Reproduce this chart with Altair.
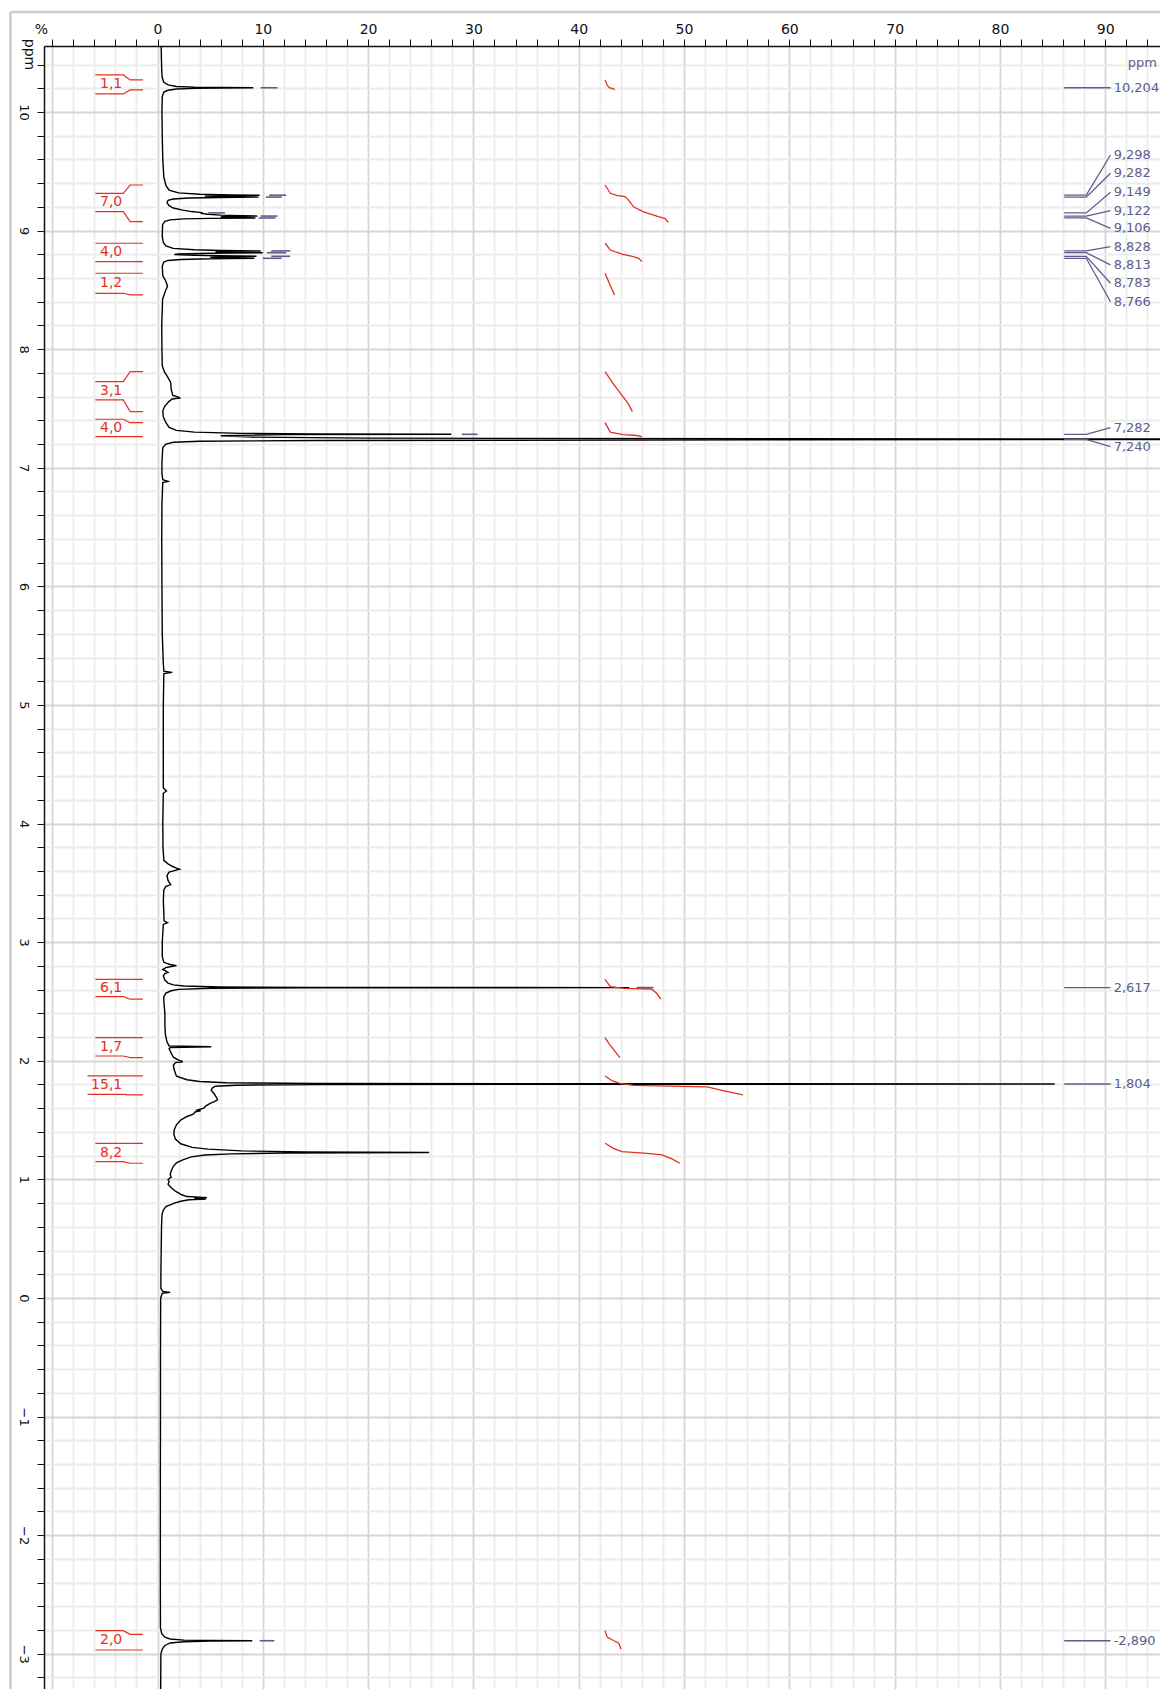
import altair as alt
import pandas as pd

# ---------------- spectrum (ppm, intensity in %) ----------------
spec_ppm = [10.556, 10.45, 10.35, 10.29, 10.25, 10.228, 10.215, 10.209, 10.206, 10.204, 10.202, 10.199,
            10.193, 10.183, 10.168, 10.13, 10.00, 9.80, 9.60, 9.45, 9.38, 9.34, 9.318, 9.306, 9.300,
            9.298, 9.294, 9.290, 9.286, 9.282, 9.279, 9.274, 9.266, 9.255, 9.235, 9.210, 9.190, 9.172,
            9.160, 9.153, 9.149, 9.145, 9.138, 9.130, 9.125, 9.122, 9.118, 9.114, 9.110, 9.106, 9.103,
            9.098, 9.090, 9.078, 9.05, 8.95, 8.90, 8.87, 8.850, 8.838, 8.832, 8.828, 8.824, 8.820,
            8.816, 8.813, 8.809, 8.803, 8.798, 8.792, 8.787, 8.783, 8.779, 8.774, 8.770, 8.766, 8.762,
            8.756, 8.748, 8.735, 8.70, 8.62, 8.57, 8.53, 8.49, 8.42, 8.20, 8.00, 7.86, 7.81, 7.76,
            7.72, 7.66, 7.61, 7.595, 7.588, 7.580, 7.56, 7.52, 7.48, 7.43, 7.38, 7.34, 7.315, 7.300,
            7.290, 7.285, 7.282, 7.279, 7.270, 7.258, 7.250, 7.244, 7.240, 7.236, 7.230, 7.224, 7.215,
            7.200, 7.17, 7.05, 6.95, 6.90, 6.885, 6.875, 6.70, 6.40, 6.00, 5.60, 5.35, 5.285, 5.275,
            5.265, 5.00, 4.60, 4.30, 4.275, 4.255, 4.00, 3.80, 3.69, 3.66, 3.64, 3.625, 3.615, 3.605,
            3.59, 3.56, 3.52, 3.485, 3.47, 3.44, 3.35, 3.25, 3.18, 3.165, 3.15, 3.00, 2.88, 2.83,
            2.812, 2.802, 2.795, 2.785, 2.770, 2.755, 2.745, 2.735, 2.715, 2.68, 2.655, 2.640, 2.630,
            2.622, 2.619, 2.617, 2.615, 2.611, 2.602, 2.590, 2.570, 2.540, 2.50, 2.40, 2.30, 2.22,
            2.16, 2.125, 2.118, 2.112, 2.10, 2.03, 2.005, 1.992, 1.985, 1.96, 1.92, 1.87, 1.84, 1.825,
            1.815, 1.808, 1.804, 1.800, 1.794, 1.785, 1.77, 1.75, 1.72, 1.69, 1.67, 1.655, 1.64, 1.62,
            1.60, 1.585, 1.578, 1.57, 1.55, 1.53, 1.50, 1.46, 1.42, 1.38, 1.34, 1.30, 1.27, 1.255,
            1.24, 1.232, 1.227, 1.222, 1.215, 1.205, 1.19, 1.165, 1.14, 1.11, 1.07, 1.04, 1.02, 1.00,
            0.98, 0.96, 0.93, 0.90, 0.87, 0.855, 0.846, 0.840, 0.835, 0.828, 0.815, 0.80, 0.785, 0.77,
            0.74, 0.70, 0.60, 0.40, 0.20, 0.08, 0.055, 0.047, 0.040, 0.00, -0.50, -1.00, -1.50, -2.00,
            -2.50, -2.78, -2.83, -2.86, -2.875, -2.885, -2.888, -2.890, -2.893, -2.899, -2.909, -2.93,
            -2.96, -3.00, -3.297]
spec_int = [0.35, 0.37, 0.40, 0.44, 0.60, 1.00, 1.8, 3.5, 6.0, 9.1, 6.0, 3.5,
            1.8, 1.0, 0.6, 0.45, 0.42, 0.45, 0.50, 0.60, 0.80, 1.1, 2.0, 4.0, 7.0,
            9.7, 6.0, 4.5, 6.0, 9.6, 6.0, 3.0, 1.5, 1.0, 0.9, 1.1, 1.5, 2.4,
            3.2, 4.0, 4.3, 4.1, 4.8, 6.0, 8.0, 9.5, 6.5, 6.0, 7.5, 9.3, 5.0,
            2.5, 1.2, 0.7, 0.48, 0.45, 0.55, 0.8, 1.5, 3.5, 6.0, 9.8, 6.5, 5.5,
            7.5, 10.0, 5.0, 2.0, 1.6, 3.5, 6.0, 9.4, 6.0, 5.0, 6.5, 9.2, 5.0,
            2.2, 1.0, 0.6, 0.45, 0.50, 0.80, 0.95, 0.75, 0.48, 0.40, 0.42, 0.45, 0.65, 1.0,
            1.25, 1.3, 1.45, 2.0, 2.1, 1.4, 1.1, 0.7, 0.5, 0.55, 0.8, 1.1, 1.8, 3.5,
            8.0, 15.0, 27.9, 12.0, 6.0, 9.0, 20.0, 60.0, 150.0, 60.0, 15.0, 4.0, 1.5,
            0.8, 0.5, 0.42, 0.42, 0.5, 1.0, 0.5, 0.42, 0.40, 0.42, 0.45, 0.55, 0.6, 1.4,
            0.6, 0.55, 0.55, 0.55, 0.85, 0.55, 0.50, 0.52, 0.6, 1.0, 1.4, 1.8, 2.1, 1.7,
            1.1, 0.9, 1.0, 1.25, 0.8, 0.6, 0.55, 0.6, 0.62, 0.95, 0.55, 0.45, 0.45, 0.6,
            1.2, 1.8, 1.3, 0.8, 0.5, 0.8, 1.0, 0.7, 0.55, 0.7, 1.0, 1.5, 2.5,
            6.0, 15.0, 44.8, 15.0, 5.0, 2.0, 1.3, 0.8, 0.6, 0.6, 0.7, 0.7, 0.75,
            0.9, 1.1, 5.1, 1.2, 1.1, 1.5, 2.0, 2.4, 1.7, 1.5, 1.6, 1.8, 2.8, 4.0,
            6.5, 15.0, 85.2, 15.0, 7.5, 5.5, 5.2, 5.1, 5.4, 5.6, 5.7, 5.4, 5.0, 4.6,
            4.4, 3.8, 4.1, 3.6, 3.4, 2.8, 2.2, 1.8, 1.6, 1.55, 1.7, 2.2, 3.3, 4.8,
            8.0, 14.0, 25.8, 12.0, 7.0, 4.5, 3.2, 2.4, 1.8, 1.5, 1.3, 1.2, 1.3, 1.0,
            1.1, 1.0, 1.3, 1.7, 2.3, 2.8, 4.7, 3.5, 4.6, 3.0, 2.2, 1.6, 1.2, 0.8,
            0.55, 0.42, 0.38, 0.35, 0.32, 0.32, 0.5, 1.2, 0.45, 0.30, 0.28, 0.28, 0.27, 0.27,
            0.27, 0.28, 0.4, 0.7, 1.2, 2.5, 5.0, 9.0, 5.0, 2.5, 1.2, 0.7,
            0.45, 0.32, 0.30]

# ---------------- integrals ----------------
int_labels = ["1,1", "7,0", "4,0", "1,2", "3,1", "4,0", "6,1", "1,7", "15,1", "8,2", "2,0"]
int_line_top = [10.312, 9.314, 8.893, 8.640, 7.726, 7.409, 2.687, 2.195, 1.872, 1.304, -2.805]
int_line_bot = [10.152, 9.159, 8.738, 8.471, 7.572, 7.262, 2.541, 2.040, 1.717, 1.149, -2.968]
int_start = [10.270, 9.384, 8.893, 8.640, 7.810, 7.380, 2.687, 2.195, 1.872, 1.304, -2.836]
int_end = [10.186, 9.075, 8.738, 8.457, 7.473, 7.262, 2.519, 2.026, 1.712, 1.136, -2.968]
int_curve_x = [
    [42.5, 42.7, 42.9, 43.3, 43.4],
    [42.5, 43.0, 43.6, 44.4, 44.8, 45.2, 46.1, 47.5, 48.2, 48.5],
    [42.5, 43.0, 44.2, 45.0, 45.7, 46.0],
    [42.5, 42.9, 43.4],
    [42.5, 43.3, 44.2, 44.7, 45.1],
    [42.5, 43.0, 44.2, 45.5, 46.0],
    [42.5, 43.0, 44.3, 46.9, 47.4, 47.8],
    [42.5, 42.9, 43.1, 43.9],
    [42.5, 43.2, 43.9, 45.2, 52.2, 53.7, 55.6],
    [42.5, 43.3, 44.1, 46.5, 47.9, 48.8, 49.6],
    [42.5, 42.7, 43.3, 43.8, 44.0],
]
int_curve_ppm = [
    [10.270, 10.225, 10.205, 10.195, 10.186],
    [9.384, 9.314, 9.296, 9.286, 9.25, 9.20, 9.16, 9.12, 9.10, 9.070],
    [8.893, 8.836, 8.800, 8.785, 8.766, 8.738],
    [8.640, 8.555, 8.457],
    [7.810, 7.705, 7.600, 7.540, 7.473],
    [7.380, 7.300, 7.280, 7.272, 7.262],
    [2.687, 2.625, 2.611, 2.605, 2.569, 2.519],
    [2.195, 2.140, 2.119, 2.026],
    [1.872, 1.830, 1.810, 1.792, 1.780, 1.748, 1.712],
    [1.304, 1.262, 1.234, 1.220, 1.206, 1.175, 1.136],
    [-2.805, -2.860, -2.888, -2.910, -2.960],
]

# ---------------- peak picking ----------------
pk_ppm = [10.204, 9.298, 9.282, 9.149, 9.122, 9.106, 8.828, 8.813, 8.783, 8.766,
          7.282, 7.240, 2.617, 1.804, -2.890]
pk_text = ["10,204", "9,298", "9,282", "9,149", "9,122", "9,106", "8,828", "8,813", "8,783",
           "8,766", "7,282", "7,240", "2,617", "1,804", "-2,890"]
pk_label_ppm = [10.204, 9.637, 9.483, 9.323, 9.168, 9.019, 8.864, 8.710, 8.556, 8.400,
                7.338, 7.178, 2.617, 1.804, -2.890]
dash_ppm = [10.204, 9.298, 9.282, 9.149, 9.122, 9.106, 8.828, 8.813, 8.783, 8.766, 7.282, 2.617, -2.890]
dash_x1 = [9.8, 10.6, 10.3, 4.8, 9.8, 9.6, 10.8, 10.4, 10.8, 10.0, 28.9, 45.5, 9.7]
dash_x2 = [11.4, 12.2, 11.8, 6.4, 11.4, 11.2, 12.6, 12.2, 12.6, 11.8, 30.4, 47.1, 11.1]

# ---------------- styling ----------------
RED = "#e2321f"
PURPLE = "#5d5d8c"
FONT = "DejaVu Sans"
XMIN, XMAX = -10.78, 95.2
YMIN, YMAX = -3.297, 10.556
W, H = 1116, 1643

x_ticks = list(range(-10, 96, 2))
y_ticks = [round(-3.2 + 0.2 * k, 1) for k in range(69)]
y_ticks = [v for v in y_ticks if v <= 10.5]

# ---------------- data frames ----------------
spec_df = pd.DataFrame({"x": spec_int, "ppm": spec_ppm, "i": list(range(len(spec_ppm)))})

rows = []
for g, (xs, ps) in enumerate(zip(int_curve_x, int_curve_ppm)):
    for i, (xv, pv) in enumerate(zip(xs, ps)):
        rows.append({"x": xv, "ppm": pv, "g": g, "i": i})
int_df = pd.DataFrame(rows)

rows = []
for g, lab in enumerate(int_labels):
    left = -5.9 - 0.75 * (len(lab) - 3)
    top_pts = [(left, int_line_top[g]), (-3.25, int_line_top[g]), (-2.6, int_start[g]), (-1.38, int_start[g])]
    bot_pts = [(left, int_line_bot[g]), (-3.25, int_line_bot[g]), (-2.6, int_end[g]), (-1.38, int_end[g])]
    for i, (xv, pv) in enumerate(top_pts):
        rows.append({"x": xv, "ppm": pv, "g": f"t{g}", "i": i})
    for i, (xv, pv) in enumerate(bot_pts):
        rows.append({"x": xv, "ppm": pv, "g": f"b{g}", "i": i})
br_df = pd.DataFrame(rows)

lab_df = pd.DataFrame({"label": int_labels,
                       "ppm": [(a + b) / 2 for a, b in zip(int_line_top, int_line_bot)],
                       "x": [-3.35] * len(int_labels)})

rows = []
for g, (p, lp) in enumerate(zip(pk_ppm, pk_label_ppm)):
    for i, (xv, pv) in enumerate([(86.1, p), (88.2, p), (90.5, lp)]):
        rows.append({"x": xv, "ppm": pv, "g": g, "i": i})
con_df = pd.DataFrame(rows)
pk_df = pd.DataFrame({"label": pk_text, "ppm": pk_label_ppm, "x": [90.8] * len(pk_text)})
dash_df = pd.DataFrame({"ppm": dash_ppm, "x1": dash_x1, "x2": dash_x2})

# ---------------- encodings ----------------
x_axis = alt.Axis(
    orient="top", values=x_ticks, tickSize=7, tickColor="#111", tickWidth=1,
    domainColor="#111", domainWidth=1.5, labelFont=FONT, labelFontSize=14, labelColor="#111",
    labelPadding=3, labelFlush=False, labelOverlap=False,
    labelExpr="(datum.value % 10 === 0 && datum.value >= 0) ? format(datum.value, 'd') : ''",
    title="%", titleFont=FONT, titleFontSize=14, titleFontWeight="normal", titleColor="#111",
    titleX=-3, titleY=-17, titleAngle=0, titleAlign="center", titleBaseline="middle",
    grid=True, gridWidth=1.8,
    gridColor={"condition": {"test": "datum.value % 10 === 0", "value": "#d6d6d6"}, "value": "#ececec"},
)
y_axis = alt.Axis(
    orient="left", values=y_ticks, tickSize=7, tickColor="#111", tickWidth=1,
    domainColor="#111", domainWidth=1.5, labelFont=FONT, labelFontSize=13, labelColor="#111",
    labelAngle=90, labelAlign="center", labelBaseline="top", labelPadding=8,
    labelFlush=False, labelOverlap=False,
    labelExpr="datum.value % 1 === 0 ? format(datum.value, 'd') : ''",
    title="ppm", titleFont=FONT, titleFontSize=14, titleFontWeight="normal", titleColor="#111",
    titleX=-16, titleY=8, titleAngle=90, titleAlign="center", titleBaseline="middle",
    grid=True, gridWidth=1.8,
    gridColor={"condition": {"test": "datum.value % 1 === 0", "value": "#d6d6d6"}, "value": "#ececec"},
)
xs = alt.Scale(domain=[XMIN, XMAX], nice=False, zero=False)
ys = alt.Scale(domain=[YMIN, YMAX], nice=False, zero=False)
X = alt.X("x:Q", scale=xs, axis=x_axis)
Y = alt.Y("ppm:Q", scale=ys, axis=y_axis)

spectrum = alt.Chart(spec_df).mark_line(color="black", strokeWidth=1.4, clip=True).encode(
    x=X, y=Y, order=alt.Order("i:Q"))

integrals = alt.Chart(int_df).mark_line(color=RED, strokeWidth=1.3).encode(
    x=X, y=Y, detail="g:N", order=alt.Order("i:Q"))

brackets = alt.Chart(br_df).mark_line(color=RED, strokeWidth=1.2).encode(
    x=X, y=Y, detail="g:N", order=alt.Order("i:Q"))

int_text = alt.Chart(lab_df).mark_text(color=RED, font=FONT, fontSize=14, align="right",
                                        baseline="middle").encode(x=X, y=Y, text="label:N")

connectors = alt.Chart(con_df).mark_line(color=PURPLE, strokeWidth=1.3).encode(
    x=X, y=Y, detail="g:N", order=alt.Order("i:Q"))

pk_labels = alt.Chart(pk_df).mark_text(color=PURPLE, font=FONT, fontSize=13, align="left",
                                        baseline="middle").encode(x=X, y=Y, text="label:N")

dashes = alt.Chart(dash_df).mark_rule(color=PURPLE, strokeWidth=1.6).encode(
    x=X, x2="x2:Q", y=Y).transform_calculate(x="datum.x1")

ppm_unit = alt.Chart(pd.DataFrame({"x": [94.9], "ppm": [10.41], "t": ["ppm"]})).mark_text(
    color=PURPLE, font=FONT, fontSize=13, align="right", baseline="middle").encode(x=X, y=Y, text="t:N")

one = pd.DataFrame({"a": [0]})
frame_h = alt.Chart(one).mark_rule(color="#cccccc", strokeWidth=2.5).encode(
    x=alt.value(-33.5), x2=alt.value(W), y=alt.value(-34))
frame_v = alt.Chart(one).mark_rule(color="#cccccc", strokeWidth=2.5).encode(
    x=alt.value(-33.5), y=alt.value(-34), y2=alt.value(H))

chart = alt.layer(
    spectrum, integrals, brackets, int_text, connectors, pk_labels, dashes, ppm_unit, frame_h, frame_v
).properties(
    width=W, height=H,
    padding={"left": 36, "top": 38, "right": 0, "bottom": 0},
    autosize=alt.AutoSizeParams(type="none"),
).configure_view(strokeWidth=0).configure(font=FONT, background="white")

chart.save("out.html", embed_options={"renderer": "svg", "actions": False})
